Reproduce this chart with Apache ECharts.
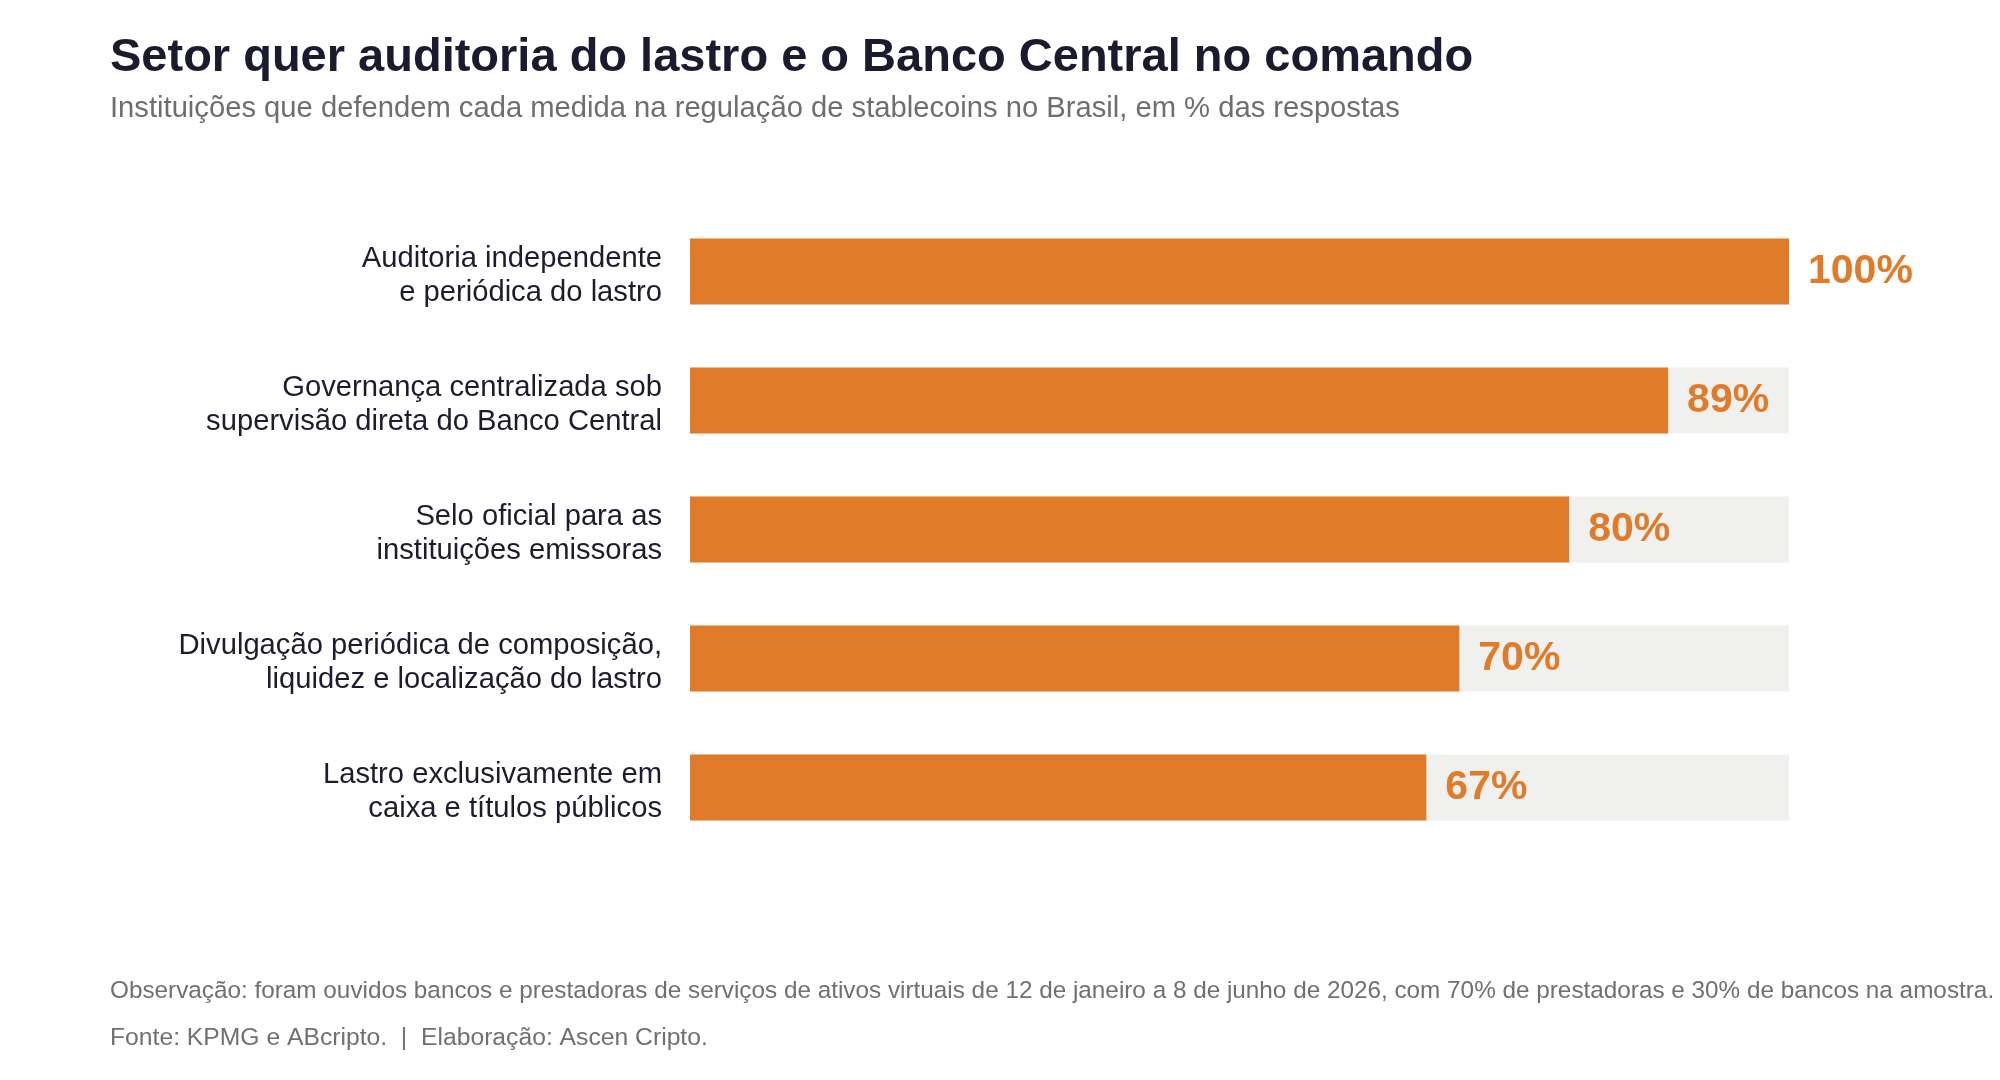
<!DOCTYPE html>
<html>
<head>
<meta charset="utf-8">
<style>
  html, body { margin: 0; padding: 0; background: #ffffff; }
  #chart { width: 2000px; height: 1080px; }
</style>
</head>
<body>
<div id="chart"></div>
<script src="https://cdn.jsdelivr.net/npm/echarts@6/dist/echarts.min.js"></script>
<script>
  // dados
  var medidas = [
    'Auditoria independente\ne periódica do lastro',
    'Governança centralizada sob\nsupervisão direta do Banco Central',
    'Selo oficial para as\ninstituições emissoras',
    'Divulgação periódica de composição,\nliquidez e localização do lastro',
    'Lastro exclusivamente em\ncaixa e títulos públicos'
  ];
  var percentuais = [100, 89, 80, 70, 67];
  var escalaMax = 100;

  var laranja = '#e07b2a';
  var fonte = '"Liberation Sans", Arial, sans-serif';

  var chart = echarts.init(document.getElementById('chart'));

  var option = {
    backgroundColor: '#ffffff',
    animation: false,
    textStyle: { fontFamily: fonte },
    title: [{
      text: 'Setor quer auditoria do lastro e o Banco Central no comando',
      left: 105,
      top: 30,
      textStyle: { fontSize: 47, fontWeight: 'bold', color: '#1b1b2f', fontFamily: fonte }
    }, {
      text: 'Instituições que defendem cada medida na regulação de stablecoins no Brasil, em % das respostas',
      left: 105,
      top: 89,
      textStyle: { fontSize: 29.2, fontWeight: 'normal', color: '#6e6e6e', fontFamily: fonte }
    }, {
      text: 'Observação: foram ouvidos bancos e prestadoras de serviços de ativos virtuais de 12 de janeiro a 8 de junho de 2026, com 70% de prestadoras e 30% de bancos na amostra.',
      left: 105,
      top: 974,
      textStyle: { fontSize: 24.3, fontWeight: 'normal', color: '#707070', fontFamily: fonte }
    }, {
      text: 'Fonte: KPMG e ABcripto.  |  Elaboração: Ascen Cripto.',
      left: 105,
      top: 1021,
      textStyle: { fontSize: 24.7, fontWeight: 'normal', color: '#707070', fontFamily: fonte }
    }],
    grid: {
      left: 690,
      right: 211,
      top: 207,
      bottom: 228,
      containLabel: false
    },
    xAxis: {
      type: 'value',
      min: 0,
      max: escalaMax,
      show: false
    },
    yAxis: {
      type: 'category',
      data: medidas,
      inverse: true,
      axisLine: { show: false },
      axisTick: { show: false },
      axisLabel: {
        margin: 28,
        align: 'right',
        // linha vazia no topo para baixar o bloco alguns px
        formatter: function (v) {
          var linhas = v.split('\n');
          return '{s| }\n{t|' + linhas[0] + '}\n{t|' + linhas[1] + '}';
        },
        rich: {
          s: { fontSize: 2, lineHeight: 8 },
          t: { fontSize: 29.2, lineHeight: 34, color: '#1c1c30', fontFamily: fonte }
        }
      }
    },
    series: [{
      type: 'bar',
      data: percentuais,
      barWidth: 66,
      itemStyle: { color: laranja },
      showBackground: true,
      backgroundStyle: { color: '#f0f0ee' },
      label: {
        show: true,
        position: 'right',
        distance: 19,
        formatter: '{c}%',
        fontSize: 41,
        fontWeight: 'bold',
        color: laranja,
        fontFamily: fonte
      }
    }]
  };

  chart.setOption(option);
</script>
</body>
</html>
